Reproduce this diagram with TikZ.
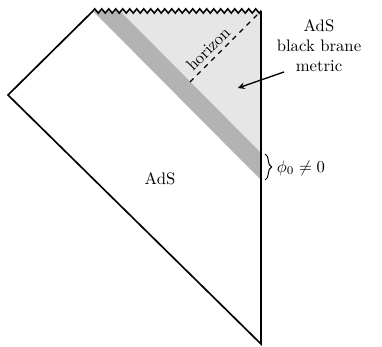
\documentclass[tikz,border=0pt]{standalone}
\usepackage{amsmath, amssymb}
\usepackage{tikz}
\usetikzlibrary{decorations.pathmorphing, decorations.pathreplacing, positioning, calc}

\begin{document}
\begin{tikzpicture}[x=0.6pt, y=-0.6pt,
    borda/.style={line width=1pt, line join=miter},
    serra/.style={line width=0.9pt, decorate, decoration={zigzag, segment length=4.2pt, amplitude=1.3pt}},
    rotulo/.style={inner sep=1pt}]
% --- CORES ---
\definecolor{faixa}{HTML}{B3B3B3}
\definecolor{buraco}{HTML}{E6E6E6}

\useasboundingbox (0,0) rectangle (382,347);

% LAYER 1: pontos do diagrama
\coordinate (topoE) at (93,11);
\coordinate (topoD) at (261,11);
\coordinate (esq) at (8,95);
\coordinate (base) at (261,344);
\coordinate (faixaT) at (120,11);
\coordinate (faixaA) at (261,153);
\coordinate (faixaB) at (261,180);
\coordinate (horF) at (190,82);

% LAYER 2: regioes sombreadas
\fill[buraco] (faixaT) -- (topoD) -- (faixaA) -- cycle;
\fill[faixa] (topoE) -- (faixaT) -- (faixaA) -- (faixaB) -- cycle;

% LAYER 3: horizonte
\draw[dashed, line width=0.7pt] (horF) -- (topoD) node[pos=0.36, above=1.5pt, sloped, rotulo] {horizon};

% LAYER 4: bordas
\draw[borda] (topoD) -- (base) -- (esq) -- (topoE);
\draw[serra] (topoE) -- (topoD);

% LAYER 5: textos
\node (ads) at (160,179) {AdS};
\node[align=center, rotulo] (metrica) at (319,46) {AdS\\black brane\\metric};
\coordinate (setaI) at (284,72);
\coordinate (setaF) at (238,88);
\draw[line width=0.8pt, ->, >=stealth] (setaI) -- (setaF);

\draw[decorate, decoration={brace, amplitude=4pt}, line width=0.6pt] (265,154) -- (265,180);
\node[right, rotulo] (phi) at (275,168) {$\phi_0 \neq 0$};
\end{tikzpicture}
\end{document}
